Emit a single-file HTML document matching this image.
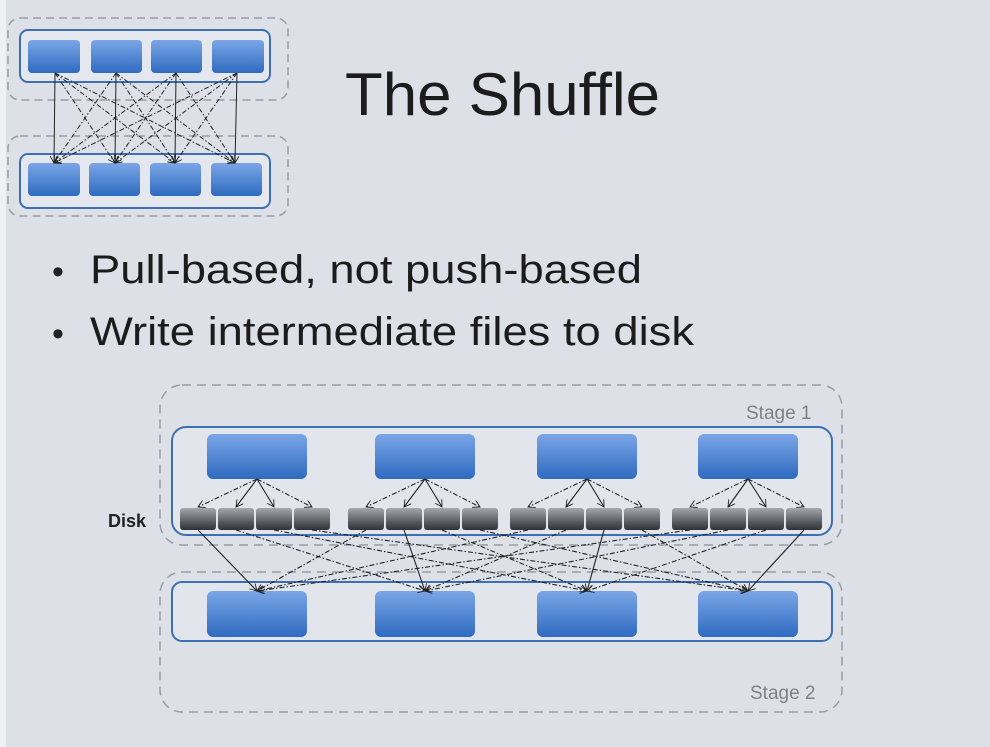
<!DOCTYPE html>
<html><head><meta charset="utf-8"><style>
html,body{margin:0;padding:0;background:#dde1e7;}
svg{display:block;}
text{font-family:"Liberation Sans",sans-serif;}
</style></head><body>
<svg id="s" width="990" height="747" viewBox="0 0 990 747" xmlns="http://www.w3.org/2000/svg">
<defs>
<linearGradient id="bl" x1="0" y1="0" x2="0" y2="1"><stop offset="0" stop-color="#7aa6e6"/><stop offset="1" stop-color="#2f6bc0"/></linearGradient>
<linearGradient id="dk" x1="0" y1="0" x2="0" y2="1"><stop offset="0" stop-color="#a4a8ad"/><stop offset="0.6" stop-color="#5c6065"/><stop offset="1" stop-color="#2e3135"/></linearGradient>
<marker id="ar" markerWidth="8" markerHeight="8" refX="7" refY="4" orient="auto" markerUnits="userSpaceOnUse"><path d="M0,0 L7,4 L0,8" fill="none" stroke="#222" stroke-width="0.9"/></marker>
</defs>
<rect x="0" y="0" width="990" height="747" fill="#dde1e7"/>
<rect x="0" y="0" width="6" height="747" fill="#eef0f3"/>
<rect x="8" y="18" width="280" height="82" rx="12" fill="none" stroke="#9a9da2" stroke-width="1.5" stroke-dasharray="8,5"/>
<rect x="8" y="136" width="280" height="80" rx="12" fill="none" stroke="#9a9da2" stroke-width="1.5" stroke-dasharray="8,5"/>
<rect x="20" y="30" width="250" height="52" rx="8" fill="#e4e8ee" stroke="#3d6fb5" stroke-width="2"/>
<rect x="20" y="154" width="250" height="54" rx="8" fill="#e4e8ee" stroke="#3d6fb5" stroke-width="2"/>
<g fill="url(#bl)">
<rect x="28" y="40" width="52" height="33" rx="4"/><rect x="91" y="40" width="51" height="33" rx="4"/><rect x="151" y="40" width="51" height="33" rx="4"/><rect x="212" y="40" width="52" height="33" rx="4"/>
<rect x="28" y="163" width="52" height="33" rx="4"/><rect x="89" y="163" width="51" height="33" rx="4"/><rect x="150" y="163" width="51" height="33" rx="4"/><rect x="211" y="163" width="51" height="33" rx="4"/>
</g>
<g id="smallLines" stroke="#222" stroke-width="1" fill="none"></g>
<text x="345" y="115" font-size="60" fill="#1c1c1c" textLength="315" lengthAdjust="spacingAndGlyphs">The Shuffle</text>
<text x="52" y="283" font-size="34" fill="#222">•</text>
<text x="90" y="283" font-size="40" fill="#1c1c1c" textLength="552" lengthAdjust="spacingAndGlyphs">Pull-based, not push-based</text>
<text x="52" y="345" font-size="34" fill="#222">•</text>
<text x="90" y="345" font-size="40" fill="#1c1c1c" textLength="604" lengthAdjust="spacingAndGlyphs">Write intermediate files to disk</text>
<rect x="160" y="385" width="682" height="160" rx="22" fill="none" stroke="#9a9da2" stroke-width="1.5" stroke-dasharray="9,6"/>
<rect x="160" y="572" width="682" height="140" rx="22" fill="none" stroke="#9a9da2" stroke-width="1.5" stroke-dasharray="9,6"/>
<rect x="172" y="427" width="660" height="108" rx="14" fill="#e2e6ec" stroke="#3d6fb5" stroke-width="2"/>
<rect x="172" y="582" width="660" height="59" rx="10" fill="#e2e6ec" stroke="#3d6fb5" stroke-width="2"/>
<text x="746" y="419" font-size="19" fill="#7e8186">Stage 1</text>
<text x="750" y="699" font-size="19" fill="#7e8186">Stage 2</text>
<text x="108" y="527" font-size="18" font-weight="bold" fill="#222">Disk</text>
<g fill="url(#bl)">
<rect x="207" y="434" width="100" height="45" rx="6"/><rect x="375" y="434" width="100" height="45" rx="6"/><rect x="537" y="434" width="100" height="45" rx="6"/><rect x="698" y="434" width="100" height="45" rx="6"/>
<rect x="207" y="591" width="100" height="46" rx="6"/><rect x="375" y="591" width="100" height="46" rx="6"/><rect x="537" y="591" width="100" height="46" rx="6"/><rect x="698" y="591" width="100" height="46" rx="6"/>
</g>
<g id="disks" fill="url(#dk)"></g>
<g id="bigLines" stroke="#222" stroke-width="1.1" fill="none"></g>
</svg>
<script>
var NS="http://www.w3.org/2000/svg";
function ln(g,x1,y1,x2,y2,dash){var l=document.createElementNS(NS,"line");l.setAttribute("x1",x1);l.setAttribute("y1",y1);l.setAttribute("x2",x2);l.setAttribute("y2",y2);if(dash)l.setAttribute("stroke-dasharray","5,2,1.5,2");l.setAttribute("marker-end","url(#ar)");document.getElementById(g).appendChild(l);}
var sx=[55,116,176,237],tx=[54,115,175,235];
for(var i=0;i<4;i++)for(var j=0;j<4;j++)ln("smallLines",sx[i],73,tx[j],163,i!=j);
var gx=[180,348,510,672],bc=[257,425,587,748];
var dg=document.getElementById("disks");
for(var g=0;g<4;g++){for(var k=0;k<4;k++){var r=document.createElementNS(NS,"rect");var x=gx[g]+k*38;r.setAttribute("x",x);r.setAttribute("y",508);r.setAttribute("width",36);r.setAttribute("height",22);r.setAttribute("rx",3);dg.appendChild(r);
ln("bigLines",bc[g],479,x+18,507,k==0||k==3);
ln("bigLines",x+18,530,bc[k],591,g!=k);}}
</script>
</body></html>
